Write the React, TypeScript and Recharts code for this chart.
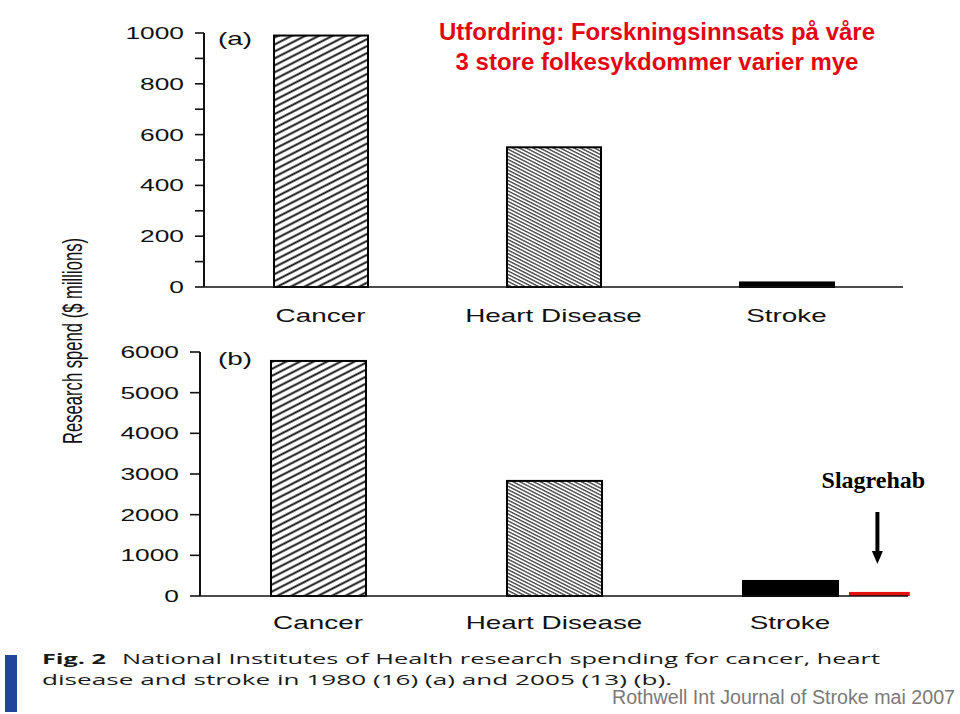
// Two stacked NIH research-spend bar panels (1980 / 2005) recreated with Recharts.
import { Bar, BarChart, Cell, XAxis, YAxis } from "recharts";

const categories = ["Cancer", "Heart Disease", "Stroke"];
const spend1980 = [990, 550, 18];
const spend2005 = [5780, 2830, 370];
const rehab2005 = [null, null, 100];

const ticks1980 = [0, 100, 200, 300, 400, 500, 600, 700, 800, 900, 1000];
const labels1980 = [0, 200, 400, 600, 800, 1000];
const ticks2005 = [0, 1000, 2000, 3000, 4000, 5000, 6000];

const FILLS = ["url(#hatchCoarse)", "url(#hatchFine)", "#000"];
const STRETCH = 1.55;
const SCAN_FONT = "'Liberation Sans', Arial, Helvetica, sans-serif";

const topData = categories.map((c, i) => ({ name: c, spend: spend1980[i] }));
const bottomData = categories.map((c, i) => ({
  name: c,
  spend: spend2005[i],
  rehab: rehab2005[i],
}));

// y tick: only labelled values get text, other ticks stay as minor marks
function makeYTick(shown: number[]) {
  return (p: any) => {
    const v = p.payload.value;
    if (!shown.includes(v)) return <g />;
    return (
      <g transform={`translate(${p.x - 9},${p.y + 6})`}>
        <text
          transform={`scale(${STRETCH},1)`}
          textAnchor="end"
          fontSize={17}
          fontFamily={SCAN_FONT}
          fill="#111"
        >
          {v}
        </text>
      </g>
    );
  };
}

function makeXTick(dy: number) {
  return (p: any) => (
    <g transform={`translate(${p.x},${p.y + dy})`}>
      <text
        transform={`scale(${STRETCH},1)`}
        textAnchor="middle"
        fontSize={18}
        fontFamily={SCAN_FONT}
        fill="#111"
      >
        {p.payload.value}
      </text>
    </g>
  );
}

function HatchBar(p: any) {
  const { x, y, width, height, fill, payload } = p;
  const parts = [
    <rect
      key="b"
      x={x}
      y={y}
      width={width}
      height={height}
      fill={fill}
      stroke="#000"
      strokeWidth={2}
    />,
  ];
  if (payload.rehab != null && payload.spend > 0) {
    // rehab spend drawn in red right next to the stroke bar, same scale
    const base = y + height;
    const rh = (payload.rehab / payload.spend) * height;
    const rx = x + width + 11;
    const rw = width * 0.64;
    const cx = rx + rw / 2 - 2;
    parts.push(
      <rect key="r" x={rx} y={base - rh} width={rw} height={rh} fill="#e41010" />,
      <line
        key="s"
        x1={cx}
        y1={base - 84}
        x2={cx}
        y2={base - 44}
        stroke="#000"
        strokeWidth={4}
      />,
      <polygon
        key="h"
        points={`${cx - 5.5},${base - 45} ${cx + 5.5},${base - 45} ${cx},${base - 32}`}
        fill="#000"
      />,
      <text
        key="t"
        x={cx - 4}
        y={base - 108}
        textAnchor="middle"
        fontSize={24}
        fontWeight="bold"
        fontFamily="'Liberation Serif', 'Times New Roman', serif"
        fill="#000"
      >
        Slagrehab
      </text>
    );
  }
  return <g>{parts}</g>;
}

export default function App() {
  return (
    <div
      style={{
        position: "absolute",
        left: 0,
        top: 0,
        width: 960,
        height: 714,
        background: "#fff",
        overflow: "hidden",
      }}
    >
      <svg
        width={960}
        height={714}
        style={{ position: "absolute", left: 0, top: 0 }}
      >
        <defs>
          <pattern
            id="hatchCoarse"
            patternUnits="userSpaceOnUse"
            width={12}
            height={6.2}
            patternTransform="rotate(-27)"
          >
            <rect width={12} height={6.2} fill="#fff" />
            <line x1={0} y1={3.1} x2={12} y2={3.1} stroke="#111" strokeWidth={1.9} />
          </pattern>
          <pattern
            id="hatchFine"
            patternUnits="userSpaceOnUse"
            width={8}
            height={3.1}
            patternTransform="rotate(27)"
          >
            <rect width={8} height={3.1} fill="#fff" />
            <line x1={0} y1={1.5} x2={8} y2={1.5} stroke="#222" strokeWidth={1.15} />
          </pattern>
        </defs>
      </svg>

      <div style={{ position: "absolute", left: 0, top: 0 }}>
        <BarChart
          width={960}
          height={330}
          data={topData}
          margin={{ top: 33, right: 57, bottom: 0, left: 0 }}
          barSize={94}
        >
          <XAxis
            dataKey="name"
            height={43}
            tickLine={false}
            tickSize={0}
            axisLine={{ stroke: "#111", strokeWidth: 1.6 }}
            tick={makeXTick(33)}
          />
          <YAxis
            width={204}
            domain={[0, 1000]}
            ticks={ticks1980}
            interval={0}
            tickSize={9}
            axisLine={{ stroke: "#111", strokeWidth: 2 }}
            tickLine={{ stroke: "#111", strokeWidth: 1.6 }}
            tick={makeYTick(labels1980)}
          />
          <Bar dataKey="spend" shape={HatchBar} isAnimationActive={false}>
            {topData.map((d, i) => (
              <Cell key={d.name} fill={FILLS[i]} />
            ))}
          </Bar>
        </BarChart>
      </div>

      <div style={{ position: "absolute", left: 0, top: 330 }}>
        <BarChart
          width={960}
          height={320}
          data={bottomData}
          margin={{ top: 22, right: 52, bottom: 0, left: 0 }}
          barSize={95}
        >
          <XAxis
            dataKey="name"
            height={54}
            tickLine={false}
            tickSize={0}
            axisLine={{ stroke: "#111", strokeWidth: 1.6 }}
            tick={makeXTick(31)}
          />
          <YAxis
            width={200}
            domain={[0, 6000]}
            ticks={ticks2005}
            interval={0}
            tickSize={10}
            axisLine={{ stroke: "#111", strokeWidth: 2 }}
            tickLine={{ stroke: "#111", strokeWidth: 1.6 }}
            tick={makeYTick(ticks2005)}
          />
          <Bar dataKey="spend" shape={HatchBar} isAnimationActive={false}>
            {bottomData.map((d, i) => (
              <Cell key={d.name} fill={FILLS[i]} />
            ))}
          </Bar>
        </BarChart>
      </div>

      <svg
        width={960}
        height={714}
        style={{ position: "absolute", left: 0, top: 0, pointerEvents: "none" }}
      >
        <g fontFamily="'Liberation Sans', Arial, sans-serif" fontWeight="bold" fill="#e30613" fontSize={24}>
          <text x={657} y={40} textAnchor="middle">
            Utfordring: Forskningsinnsats på våre
          </text>
          <text x={657} y={70} textAnchor="middle">
            3 store folkesykdommer varier mye
          </text>
        </g>

        <g transform="translate(218,45)">
          <text transform={`scale(${STRETCH},1)`} fontSize={18} fontFamily={SCAN_FONT} fill="#111">
            (a)
          </text>
        </g>
        <g transform="translate(218,365)">
          <text transform={`scale(${STRETCH},1)`} fontSize={18} fontFamily={SCAN_FONT} fill="#111">
            (b)
          </text>
        </g>

        <text
          transform="translate(82,341) rotate(-90)"
          textAnchor="middle"
          fontSize={27}
          fontFamily="'Liberation Sans Narrow', 'Arial Narrow', sans-serif"
          fill="#111"
          textLength={206}
          lengthAdjust="spacingAndGlyphs"
        >
          Research spend  ($ millions)
        </text>

        <rect x={5} y={655} width={12} height={57} fill="#22449a" />
        <g fontFamily="'Open Sans', 'Noto Sans', sans-serif" fontSize={15} fill="#1a1a1a">
          <text x={42} y={664} fontWeight="bold" textLength={64} lengthAdjust="spacingAndGlyphs">
            Fig. 2
          </text>
          <text x={122} y={664} textLength={758} lengthAdjust="spacingAndGlyphs">
            National Institutes of Health research spending for cancer, heart
          </text>
          <text x={42} y={685} textLength={630} lengthAdjust="spacingAndGlyphs">
            disease and stroke in 1980 (16) (a) and 2005 (13) (b).
          </text>
        </g>
        <text
          x={955}
          y={704}
          textAnchor="end"
          fontSize={20}
          fontFamily="'Liberation Sans Narrow', 'Arial Narrow', sans-serif"
          fill="#7a7a7a"
          textLength={343}
          lengthAdjust="spacingAndGlyphs"
        >
          Rothwell Int Journal of Stroke mai 2007
        </text>
      </svg>
    </div>
  );
}
